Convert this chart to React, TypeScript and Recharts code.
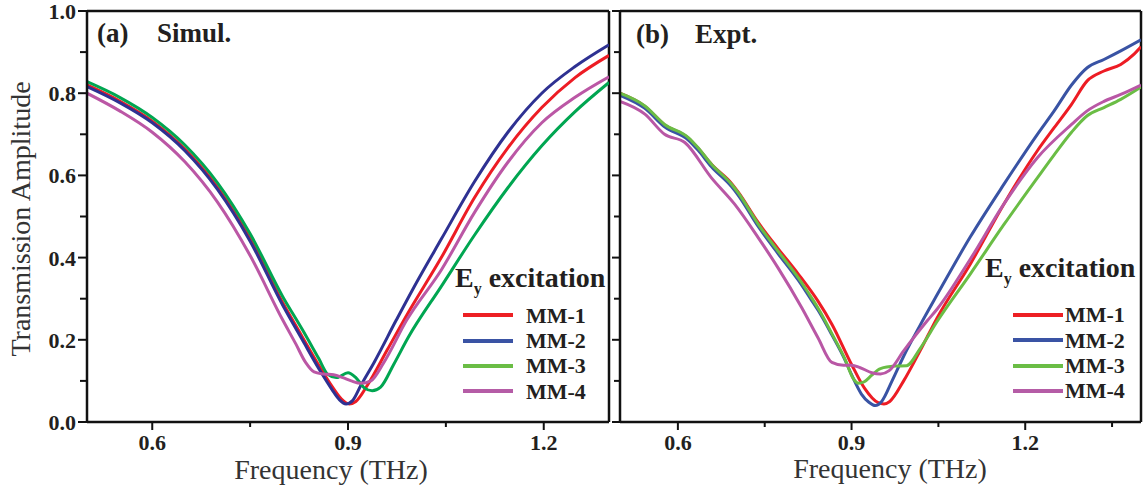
import React from 'react'
import { LineChart, Line, XAxis, YAxis, ReferenceLine, Legend } from 'recharts'

type Pt = [number, number]

const serif = "'Liberation Serif', 'Times New Roman', serif"

const seriesNames = ['MM-1', 'MM-2', 'MM-3', 'MM-4']
const simColors = ['#ed1c24', '#2e3192', '#00a651', '#bb57a5']
const exptColors = ['#ed1c24', '#3953a4', '#6abd45', '#b957a5']
const legendColors = ['#ed2024', '#3a53a4', '#6abd45', '#b55ca6']

const ticksY = [0, 0.1, 0.2, 0.3, 0.4, 0.5, 0.6, 0.7, 0.8, 0.9, 1.0]
const simTicksX = [0.6, 0.75, 0.9, 1.05, 1.2]
const exptTicksX = [0.6, 0.75, 0.9, 1.05, 1.2, 1.35]
const labeledX = [0.6, 0.9, 1.2]

// (a) Simul.
const simMM1: Pt[] = [
    [0.5, 0.82], [0.55, 0.781], [0.6, 0.732], [0.65, 0.664], [0.7, 0.571], [0.75, 0.446], [0.8, 0.29],
    [0.83, 0.207], [0.856, 0.136], [0.875, 0.088], [0.89, 0.056], [0.902, 0.044], [0.912, 0.05], [0.93, 0.09],
    [0.96, 0.175], [0.99, 0.26], [1.043, 0.4], [1.094, 0.546], [1.145, 0.667], [1.197, 0.765], [1.248, 0.838],
    [1.3, 0.892],
]
const simMM2: Pt[] = [
    [0.5, 0.816], [0.55, 0.777], [0.6, 0.728], [0.65, 0.66], [0.7, 0.566], [0.75, 0.44], [0.8, 0.284],
    [0.83, 0.2], [0.856, 0.128], [0.875, 0.08], [0.887, 0.054], [0.897, 0.044], [0.907, 0.052], [0.92, 0.09],
    [0.94, 0.145], [0.974, 0.248], [1.0, 0.325], [1.043, 0.445], [1.094, 0.585], [1.145, 0.705], [1.197, 0.8],
    [1.248, 0.865], [1.3, 0.918],
]
const simMM3: Pt[] = [
    [0.5, 0.828], [0.55, 0.79], [0.6, 0.741], [0.65, 0.674], [0.7, 0.582], [0.75, 0.458], [0.8, 0.305],
    [0.83, 0.225], [0.855, 0.155], [0.869, 0.116], [0.882, 0.108], [0.9, 0.12], [0.912, 0.108], [0.925, 0.083],
    [0.937, 0.076], [0.95, 0.085], [0.97, 0.14], [0.992, 0.205], [1.043, 0.33], [1.094, 0.455], [1.145, 0.57],
    [1.197, 0.672], [1.248, 0.755], [1.3, 0.826],
]
const simMM4: Pt[] = [
    [0.5, 0.8], [0.55, 0.757], [0.6, 0.705], [0.65, 0.633], [0.7, 0.535], [0.75, 0.405], [0.8, 0.248],
    [0.82, 0.19], [0.835, 0.145], [0.848, 0.122], [0.862, 0.117], [0.878, 0.115], [0.892, 0.108], [0.905, 0.1],
    [0.92, 0.094], [0.935, 0.1], [0.955, 0.145], [0.99, 0.248], [1.043, 0.37], [1.094, 0.51], [1.145, 0.632],
    [1.197, 0.728], [1.248, 0.79], [1.3, 0.84],
]

// (b) Expt.
const exptMM1: Pt[] = [
    [0.5, 0.8], [0.543, 0.768], [0.577, 0.723], [0.618, 0.691], [0.635, 0.666], [0.658, 0.627], [0.693, 0.58],
    [0.704, 0.56], [0.739, 0.485], [0.773, 0.422], [0.808, 0.36], [0.842, 0.294], [0.866, 0.238], [0.9, 0.14],
    [0.922, 0.083], [0.946, 0.047], [0.956, 0.044], [0.966, 0.05], [0.99, 0.1], [1.019, 0.175], [1.048, 0.254],
    [1.105, 0.384], [1.163, 0.53], [1.221, 0.66], [1.25, 0.716], [1.28, 0.773], [1.307, 0.83], [1.336, 0.854],
    [1.365, 0.87], [1.388, 0.895], [1.4, 0.913],
]
const exptMM2: Pt[] = [
    [0.5, 0.795], [0.543, 0.763], [0.577, 0.718], [0.618, 0.686], [0.635, 0.661], [0.658, 0.621], [0.693, 0.572],
    [0.704, 0.552], [0.739, 0.475], [0.773, 0.41], [0.808, 0.345], [0.831, 0.296], [0.843, 0.27], [0.866, 0.212],
    [0.889, 0.15], [0.9, 0.115], [0.917, 0.068], [0.93, 0.048], [0.941, 0.04], [0.952, 0.05], [0.97, 0.1],
    [0.99, 0.16], [1.019, 0.237], [1.048, 0.31], [1.105, 0.45], [1.163, 0.578], [1.221, 0.7], [1.25, 0.757],
    [1.28, 0.82], [1.307, 0.862], [1.336, 0.882], [1.365, 0.903], [1.4, 0.93],
]
const exptMM3: Pt[] = [
    [0.5, 0.8], [0.543, 0.769], [0.577, 0.724], [0.618, 0.692], [0.635, 0.667], [0.658, 0.627], [0.693, 0.578],
    [0.704, 0.558], [0.739, 0.481], [0.773, 0.416], [0.808, 0.351], [0.831, 0.302], [0.843, 0.275], [0.866, 0.215],
    [0.889, 0.152], [0.902, 0.108], [0.912, 0.094], [0.922, 0.098], [0.935, 0.114], [0.95, 0.13], [0.975, 0.136],
    [0.995, 0.137], [1.019, 0.18], [1.048, 0.245], [1.105, 0.36], [1.163, 0.48], [1.221, 0.594], [1.25, 0.65],
    [1.28, 0.705], [1.307, 0.745], [1.336, 0.765], [1.365, 0.785], [1.4, 0.815],
]
const exptMM4: Pt[] = [
    [0.5, 0.78], [0.543, 0.749], [0.577, 0.7], [0.612, 0.68], [0.658, 0.594], [0.698, 0.53], [0.739, 0.448],
    [0.773, 0.375], [0.814, 0.278], [0.842, 0.205], [0.866, 0.145], [0.886, 0.138], [0.9, 0.138], [0.915, 0.132],
    [0.935, 0.12], [0.95, 0.117], [0.965, 0.125], [0.99, 0.173], [1.03, 0.245], [1.048, 0.275], [1.105, 0.396],
    [1.163, 0.53], [1.221, 0.643], [1.28, 0.724], [1.307, 0.757], [1.336, 0.78], [1.365, 0.797], [1.4, 0.82],
]

const simSeries = [simMM1, simMM2, simMM3, simMM4]
const exptSeries = [exptMM1, exptMM2, exptMM3, exptMM4]

const toRows = (pts: Pt[]) => pts.map(([f, t]) => ({ f, t }))

const tickFont = { fontFamily: serif, fontWeight: 'bold' as const, fontSize: 22, fill: '#231f20' }
const axisLine = { stroke: '#111', strokeWidth: 2.5 }

const LeftYTick = (props: any) => {
    const { x, y, payload } = props
    const v = payload.value
    const major = Math.round(v * 10) % 2 === 0
    return (
        <g>
            <line x1={x + 11 - (major ? 9 : 7)} x2={x + 11} y1={y} y2={y} stroke="#111" strokeWidth={2} />
            {major && (
                <text x={x} y={y} dy="0.36em" textAnchor="end" style={tickFont}>
                    {v.toFixed(1)}
                </text>
            )}
        </g>
    )
}

const RightYTick = (props: any) => {
    const { x, y, payload } = props
    const major = Math.round(payload.value * 10) % 2 === 0
    return <line x1={x - (major ? 8 : 6)} x2={x} y1={y} y2={y} stroke="#111" strokeWidth={2} />
}

const XTick = (props: any) => {
    const { x, y, payload } = props
    const v = payload.value
    const major = labeledX.some((m) => Math.abs(m - v) < 1e-6)
    return (
        <g>
            <line x1={x} x2={x} y1={y - 12} y2={y - 12 + (major ? 8 : 5)} stroke="#111" strokeWidth={2} />
            {major && (
                <text x={x} y={y} dy="0.71em" textAnchor="middle" style={tickFont}>
                    {v.toFixed(1)}
                </text>
            )}
        </g>
    )
}

const makeLegend = (titleGap: number, padLeft: number, textGap: number) => () => (
    <div style={{ fontFamily: serif, fontWeight: 'bold', color: '#231f20' }}>
        <div style={{ fontSize: 28, lineHeight: '28px', whiteSpace: 'nowrap', marginBottom: titleGap }}>
            E<span style={{ fontSize: 16, lineHeight: '16px', position: 'relative', top: 7 }}>y</span> excitation
        </div>
        {seriesNames.map((name, i) => (
            <div key={name} style={{ display: 'flex', alignItems: 'center', height: 25.3, paddingLeft: padLeft }}>
                <span style={{ display: 'inline-block', width: 50, height: 4, background: legendColors[i] }} />
                <span style={{ marginLeft: textGap, fontSize: 22, lineHeight: '25.3px' }}>{name}</span>
            </div>
        ))}
    </div>
)

const App = () => {
    return (
        <div style={{ position: 'absolute', left: 0, top: 0, width: 1143, height: 494, background: '#fff', overflow: 'hidden' }}>
            {/* left chart sits 10px higher so the "1.0" label stays inside its svg */}
            <div style={{ position: 'absolute', left: 0, top: -10 }}>
                <LineChart width={620} height={504} margin={{ top: 21, right: 11, bottom: 32, left: 27 }}>
                    <XAxis
                        dataKey="f"
                        type="number"
                        domain={[0.5, 1.3]}
                        ticks={simTicksX}
                        interval={0}
                        height={40}
                        tickSize={0}
                        tickMargin={12}
                        tickLine={false}
                        axisLine={axisLine}
                        tick={<XTick />}
                        allowDataOverflow
                    />
                    <YAxis
                        type="number"
                        domain={[0, 1]}
                        ticks={ticksY}
                        interval={0}
                        width={60}
                        tickSize={0}
                        tickMargin={11}
                        tickLine={false}
                        axisLine={axisLine}
                        tick={<LeftYTick />}
                        allowDataOverflow
                    />
                    <ReferenceLine y={1} stroke="#111" strokeWidth={2.5} />
                    <ReferenceLine x={1.3} stroke="#111" strokeWidth={2.5} />
                    {simSeries.map((pts, i) => (
                        <Line
                            key={seriesNames[i]}
                            data={toRows(pts)}
                            dataKey="t"
                            name={seriesNames[i]}
                            type="monotone"
                            stroke={simColors[i]}
                            strokeWidth={3}
                            dot={false}
                            activeDot={false}
                            isAnimationActive={false}
                        />
                    ))}
                    <Legend
                        layout="horizontal"
                        verticalAlign="middle"
                        align="center"
                        width={170}
                        wrapperStyle={{ left: 455, top: 273.6 }}
                        content={makeLegend(11.2, 8, 13)}
                    />
                </LineChart>
            </div>
            <div style={{ position: 'absolute', left: 610, top: 0 }}>
                <LineChart width={533} height={494} margin={{ top: 11, right: 2, bottom: 32, left: 0 }}>
                    <XAxis
                        dataKey="f"
                        type="number"
                        domain={[0.5, 1.4]}
                        ticks={exptTicksX}
                        interval={0}
                        height={40}
                        tickSize={0}
                        tickMargin={12}
                        tickLine={false}
                        axisLine={axisLine}
                        tick={<XTick />}
                        allowDataOverflow
                    />
                    <YAxis
                        type="number"
                        domain={[0, 1]}
                        ticks={ticksY}
                        interval={0}
                        width={10}
                        tickSize={0}
                        tickMargin={0}
                        tickLine={false}
                        axisLine={axisLine}
                        tick={<RightYTick />}
                        allowDataOverflow
                    />
                    <ReferenceLine y={1} stroke="#111" strokeWidth={2.5} />
                    <ReferenceLine x={1.4} stroke="#111" strokeWidth={2.5} />
                    {exptSeries.map((pts, i) => (
                        <Line
                            key={seriesNames[i]}
                            data={toRows(pts)}
                            dataKey="t"
                            name={seriesNames[i]}
                            type="monotone"
                            stroke={exptColors[i]}
                            strokeWidth={3}
                            dot={false}
                            activeDot={false}
                            isAnimationActive={false}
                        />
                    ))}
                    <Legend
                        layout="horizontal"
                        verticalAlign="middle"
                        align="center"
                        width={160}
                        wrapperStyle={{ left: 375, top: 253.6 }}
                        content={makeLegend(20.7, 28, 2)}
                    />
                </LineChart>
            </div>
            <svg
                width={1143}
                height={494}
                style={{ position: 'absolute', left: 0, top: 0, pointerEvents: 'none' }}
                fontFamily={serif}
            >
                <g fontWeight="bold" fontSize={27} fill="#231f20">
                    <text x={97} y={42}>(a)</text>
                    <text x={157} y={42}>Simul.</text>
                    <text x={636} y={43}>(b)</text>
                    <text x={695} y={43}>Expt.</text>
                </g>
                <g fontSize={28} fill="#333">
                    <text x={30} y={219} textAnchor="middle" transform="rotate(-90 30 219)">
                        Transmission Amplitude
                    </text>
                    <text x={331} y={479} textAnchor="middle">Frequency (THz)</text>
                    <text x={890} y={478} textAnchor="middle">Frequency (THz)</text>
                </g>
            </svg>
        </div>
    )
}

export default App
